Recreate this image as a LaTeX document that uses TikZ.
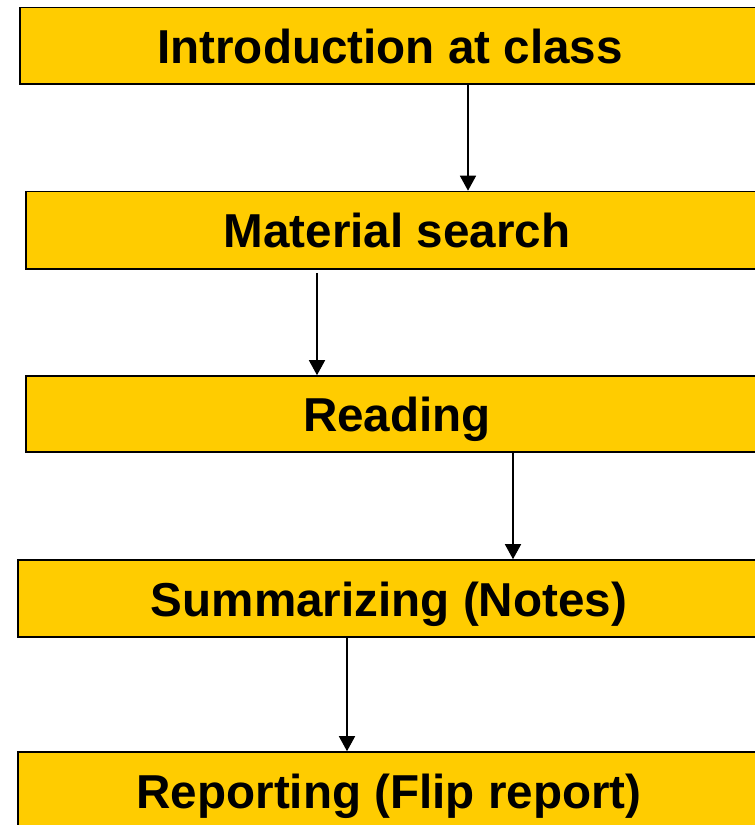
\documentclass[tikz,border=0pt]{standalone}
\usepackage{fontspec}
\setmainfont{Liberation Sans}
\usetikzlibrary{arrows.meta}
\definecolor{stepfill}{HTML}{FFCC00}
\begin{document}
\begin{tikzpicture}[x=1pt,y=-1pt,
  stepbox/.style={draw=black,line width=1.6pt,fill=stepfill,rectangle,
    inner sep=0pt,text height=35pt,text depth=0pt,
    font=\fontsize{47.6}{57}\selectfont\bfseries},
  flow/.style={draw=black,line width=1.5pt,-{Triangle[width=16pt,length=15pt]}}]
  \useasboundingbox (0,0) rectangle (755,825);
  \clip (0,0) rectangle (755,825);
  % process steps
  \node[stepbox,minimum width=740pt,minimum height=76.5pt] (b1) at (390,45.75) {Introduction at class};
  \node[stepbox,minimum width=742pt,minimum height=77.5pt] (b2) at (397,230.25) {Material search};
  \node[stepbox,minimum width=742pt,minimum height=76pt] (b3) at (397,414) {Reading};
  \node[stepbox,minimum width=742pt,minimum height=77pt] (b4) at (389,598.5) {Summarizing (Notes)};
  \node[stepbox,minimum width=742pt,minimum height=77pt] (b5) at (389,790.5) {Reporting (Flip report)};
  % arrow columns
  \coordinate (c1) at (468,0);
  \coordinate (c2) at (317,0);
  \coordinate (c3) at (513,0);
  \coordinate (c4) at (347,0);
  \draw[flow] (c1 |- b1.south) -- (c1 |- b2.north);
  \draw[flow,shorten <=3pt] (c2 |- b2.south) -- (c2 |- b3.north);
  \draw[flow] (c3 |- b3.south) -- (c3 |- b4.north);
  \draw[flow] (c4 |- b4.south) -- (c4 |- b5.north);
\end{tikzpicture}
\end{document}
